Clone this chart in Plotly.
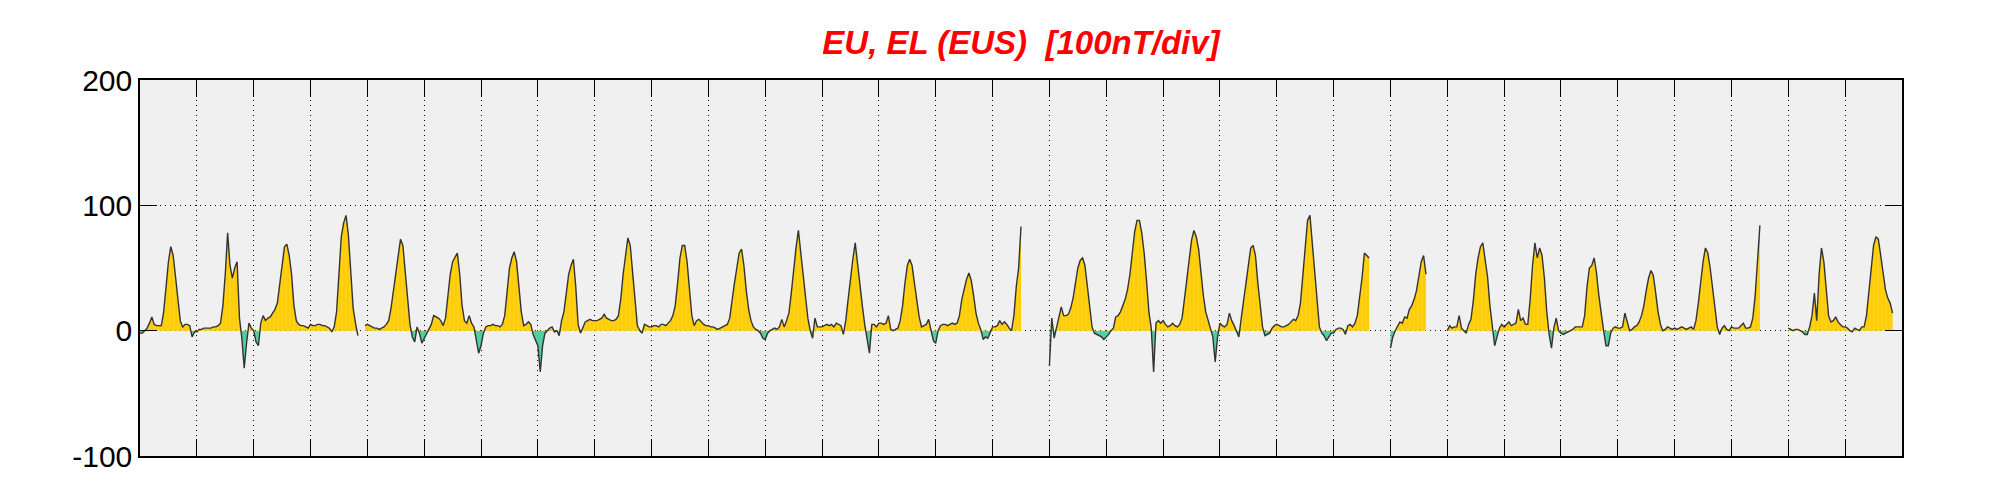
import plotly.graph_objects as go

# Hourly EU/EL values (nT) for each day of the month; None = missing data
day01 = [-2, -2, 0, 2, 6, 11, 5, 4, 4, 4, 15, 35, 55, 67, 60, 43, 25, 8, 3, 5, 5, 4, -5, -1]
day02 = [-1, 1, 1, 2, 2, 2, 2, 3, 3, 4, 6, 20, 45, 78, 52, 42, 50, 55, 10, -6, -30, -10, 6, 2]
day03 = [0, -9, -12, 6, 12, 8, 10, 11, 14, 17, 22, 36, 52, 67, 69, 60, 45, 20, 8, 5, 4, 4, 3, 2]
day04 = [5, 4, 4, 5, 5, 4, 4, 3, 2, -1, 3, 15, 50, 75, 86, 92, 76, 42, 18, 6, -4, None, None, 4]
day05 = [5, 4, 3, 2, 2, 1, 2, 3, 5, 8, 18, 32, 48, 62, 73, 68, 45, 28, 5, -5, -9, 3, -2, -10]
day06 = [-6, -3, 2, 5, 12, 11, 10, 8, 4, 10, 27, 45, 55, 58, 62, 45, 20, 8, 6, 12, 6, 3, -8, -18]
day07 = [-12, -2, 3, 4, 4, 5, 4, 4, 3, 5, 12, 33, 50, 58, 63, 55, 35, 15, 4, 5, 7, 5, -3, -8]
day08 = [-12, -33, -12, -2, 0, 2, 3, -1, 0, -4, 8, 15, 30, 45, 52, 57, 35, 5, -2, 3, 7, 8, 9, 8]
day09 = [8, 8, 9, 10, 13, 10, 9, 8, 8, 9, 12, 25, 45, 60, 74, 68, 45, 20, 4, 0, -2, 5, 4, 3]
day10 = [3, 4, 4, 3, 5, 5, 4, 6, 8, 12, 20, 38, 58, 68, 68, 55, 32, 12, 4, 8, 9, 7, 5, 4]
day11 = [4, 3, 3, 2, 1, 2, 3, 4, 5, 10, 25, 38, 50, 62, 65, 52, 32, 17, 8, 3, 1, 0, -2, -6]
day12 = [-7, -2, 0, 1, 2, 1, 3, 9, 3, 8, 14, 30, 50, 66, 80, 62, 42, 28, 10, 0, -6, 10, 3, 3]
day13 = [3, 4, 5, 4, 5, 3, 6, 5, 4, -3, 8, 25, 42, 57, 70, 52, 35, 20, 5, -8, -18, 5, 5, 3]
day14 = [6, 6, 5, 6, 12, 1, 0, 1, 2, 8, 20, 38, 52, 57, 52, 38, 25, 11, 3, 4, 5, 9, 0, -8]
day15 = [-10, 0, 4, 5, 5, 4, 5, 6, 5, 6, 12, 25, 33, 41, 46, 40, 28, 14, 6, 1, -7, -5, -6, -2]
day16 = [3, 3, 4, 8, 5, 7, 5, 2, 0, 12, 35, 50, 83, None, None, None, None, None, None, None, None, None, None, None]
day17 = [-28, 10, -6, 3, 10, 19, 12, 12, 13, 18, 26, 38, 50, 56, 58, 52, 36, 20, 3, -2, -3, -4, -5, -7]
day18 = [-5, -3, 0, 2, 11, 12, 15, 20, 25, 33, 45, 62, 79, 88, 88, 78, 62, 40, 15, 2, -33, 6, 8, 6]
day19 = [8, 5, 3, 4, 6, 4, 3, 5, 10, 25, 40, 58, 72, 80, 75, 65, 46, 28, 15, 8, 3, -5, -25, -5]
day20 = [6, 4, 3, 5, 14, 8, 4, 0, -5, 10, 25, 40, 55, 66, 68, 60, 38, 18, 3, -4, -3, -2, 2, 4]
day21 = [5, 4, 3, 3, 4, 5, 7, 9, 8, 12, 22, 42, 65, 88, 92, 70, 42, 20, 3, -2, -4, -8, -5, -2]
day22 = [-2, 1, 2, 2, 1, -3, 4, 5, 3, 6, 12, 25, 42, 62, 60, 58, None, None, None, None, None, None, None, None]
day23 = [-14, -5, 0, 3, 7, 6, 11, 10, 17, 20, 25, 32, 42, 55, 60, 45, None, None, None, None, None, None, None, None]
day24 = [0, 4, 2, 3, 3, 12, 2, 0, -2, 5, 9, 24, 45, 58, 67, 70, 57, 43, 20, 3, -12, -5, 2, 5]
day25 = [3, 5, 7, 4, 5, 6, 17, 8, 10, 5, 5, 25, 52, 70, 58, 66, 60, 42, 15, -3, -14, 2, 10, 0]
day26 = [-2, -3, -2, -1, 0, 1, 3, 3, 3, 3, 12, 35, 50, 52, 58, 46, 28, 12, 0, -12, -12, -2, 2, 3]
day27 = [2, 2, 3, 14, 6, 0, 1, 3, 4, 7, 12, 20, 32, 42, 48, 44, 30, 15, 5, 0, 1, 3, 2, 1]
day28 = [2, 1, 2, 3, 2, 1, 2, 3, 1, 8, 22, 40, 55, 66, 62, 50, 34, 15, 3, -3, 2, 4, 1, 0]
day29 = [3, 2, 2, 2, 4, 6, 2, 2, 3, 10, 28, 58, 84, None, None, None, None, None, None, None, None, None, None, None]
day30 = [2, 1, 0, 1, 1, 0, -1, -3, -3, 3, 12, 30, 8, 45, 66, 55, 35, 12, 7, 8, 11, 7, 5, 3]
day31 = [3, 2, 0, -1, 2, 1, 0, 3, 3, 12, 30, 52, 68, 75, 73, 60, 45, 33, 26, 22, 14, None, None, None]

days = [day01, day02, day03, day04, day05, day06, day07, day08, day09, day10,
        day11, day12, day13, day14, day15, day16, day17, day18, day19, day20,
        day21, day22, day23, day24, day25, day26, day27, day28, day29, day30, day31]

y_ticks = [-100, 0, 100, 200]
title_text = "EU, EL (EUS) \u00a0[100nT/div]"

t, v = [], []
for d, vals in enumerate(days):
    for h, val in enumerate(vals):
        t.append(d + h / 24.0)
        v.append(val)

# split into contiguous runs (data gaps must not be filled)
segments = []
cur_t, cur_v = [], []
for tt, vv in zip(t, v):
    if vv is None:
        if cur_t:
            segments.append((cur_t, cur_v))
        cur_t, cur_v = [], []
    else:
        cur_t.append(tt)
        cur_v.append(vv)
if cur_t:
    segments.append((cur_t, cur_v))

YELLOW = "#FFCC00"
TEAL = "#4FCFA2"
Y_MIN, Y_MAX = -100, 200
z = (0 - Y_MIN) / (Y_MAX - Y_MIN)

fig = go.Figure()
for st, sv in segments:
    fig.add_trace(go.Scatter(
        x=st, y=sv, mode="lines", line=dict(width=0, color=YELLOW),
        fill="tozeroy", fillcolor=YELLOW,
        fillgradient=dict(type="vertical", start=Y_MIN, stop=Y_MAX,
                          colorscale=[[0, TEAL], [z - 0.0005, TEAL],
                                      [z + 0.0005, YELLOW], [1, YELLOW]]),
        hoverinfo="skip"))
    fig.add_trace(go.Scatter(
        x=st, y=[max(a, 0) for a in sv], mode="lines", line=dict(width=0),
        fill="tozeroy", fillcolor="rgba(0,0,0,0)",
        fillpattern=dict(shape="|", bgcolor="rgba(0,0,0,0)", fgcolor="rgba(255,250,215,0.8)",
                         size=4, solidity=0.15),
        hoverinfo="skip"))

fig.add_trace(go.Scatter(
    x=t, y=v, mode="lines", line=dict(width=1.4, color="#333333"),
    connectgaps=False))

axis_common = dict(
    ticks="inside", ticklen=17, tickwidth=1.2, tickcolor="black",
    showgrid=True, gridcolor="black", gridwidth=1, griddash="1px,4px",
    showline=True, linecolor="black", linewidth=1.5, mirror="allticks",
    zeroline=False,
)

fig.update_layout(
    width=2001, height=500, autosize=False,
    margin=dict(l=132, r=107, t=72, b=52, pad=0),
    paper_bgcolor="white", plot_bgcolor="#F0F0F0",
    showlegend=False,
    title=dict(text=title_text, x=0.5, xref="paper", xanchor="center",
               y=1 - 34 / 500, yanchor="middle",
               font=dict(family="Liberation Sans", size=33, color="#FF0000",
                         weight="bold", style="italic")),
    xaxis=dict(range=[0, len(days)], tickmode="linear", tick0=0, dtick=1,
               showticklabels=False, **axis_common),
    yaxis=dict(range=[Y_MIN, Y_MAX], tickmode="array", tickvals=y_ticks,
               ticktext=[str(k) for k in y_ticks],
               tickfont=dict(family="Liberation Sans", size=30, color="black"),
               **axis_common),
)

fig.write_html("out.html")
